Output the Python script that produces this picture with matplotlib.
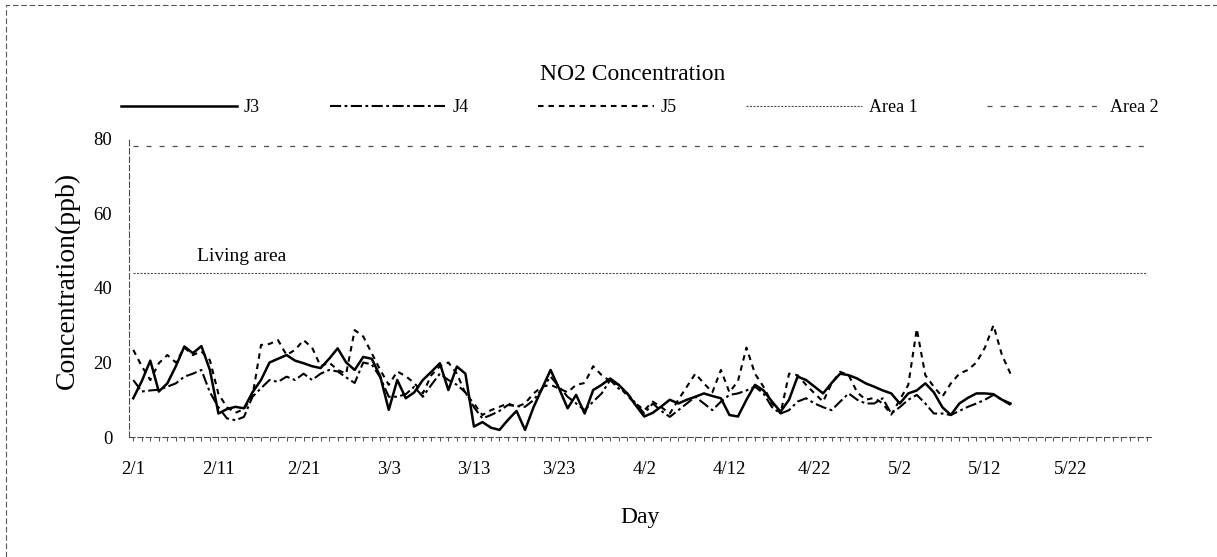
import numpy as np
import matplotlib
matplotlib.use("Agg")
import matplotlib.pyplot as plt
from matplotlib.patches import Rectangle

plt.rcParams['font.family'] = ['Liberation Serif', 'DejaVu Serif']
plt.rcParams['lines.scale_dashes'] = False

# daily NO2 values (ppb), starting 2/1
j3 = [10.4, 15, 20.5, 12.2, 14.4, 19, 24.3, 22.5, 24.4, 18,
      6.3, 7.5, 8.1, 7.7, 12, 15.3, 20, 21, 22, 20.5,
      19.8, 19, 18.5, 21, 23.8, 20, 18, 21.5, 21, 16.3,
      7.3, 15.3, 10.4, 12, 15.3, 17.5, 19.8, 12.6, 18.9, 17,
      2.8, 4, 2.5, 1.9, 4.6, 7, 1.9, 8, 13, 18,
      13, 7.7, 11.3, 6.3, 12.6, 14, 15.7, 14, 11.7, 8.5,
      5.5, 6.5, 8.2, 10, 9, 10, 10.8, 11.7, 11, 10.4,
      5.9, 5.5, 10, 14, 12.5, 9.5, 6.8, 10, 16.2, 15.3,
      13.5, 11.7, 14.5, 17, 16.6, 15.7, 14.4, 13.5, 12.5, 11.7,
      9, 11.7, 12.5, 14.4, 12, 8, 5.9, 9, 10.5, 11.7,
      11.7, 11.5, 10, 9]
j4 = [15.3, 12.2, 12.5, 12.7, 13.5, 14.4, 16.2, 17, 18, 12,
      8, 5, 4.5, 5.4, 10.8, 13.1, 15.3, 14.8, 16.2, 15.3,
      17, 15.3, 17, 18, 17.6, 16, 14.5, 20, 19.5, 16,
      10.8, 10.8, 11.5, 13.5, 10.8, 14, 17, 15.3, 14, 12,
      8, 5, 5.9, 7, 8.6, 8.3, 8.1, 9.9, 13, 16.2,
      13.5, 10.8, 9, 7.2, 9.5, 11.7, 15.3, 13, 11.7, 9,
      6.3, 9, 7, 5.4, 7.2, 9, 10.8, 9, 7.2, 9.5,
      11.3, 11.7, 12.5, 13.5, 11.7, 8, 6.3, 7.2, 9.5, 10.4,
      9, 8, 7.2, 9.5, 11.7, 10, 9, 9, 10.4, 6.3,
      8, 10, 11.3, 9, 6.3, 6.3, 5.9, 7, 8.1, 9,
      10, 11.3, 10, 8.6]
j5 = [23.4, 19, 15.3, 19.8, 22, 20, 24, 22, 23, 20.6,
      11.6, 8, 6.5, 7.5, 11, 24.7, 25, 26, 22, 23.4,
      26, 24, 19, 20, 18, 17, 28.7, 27, 22.5, 18,
      14, 17.6, 16.3, 14.5, 11.7, 16.6, 19, 20, 17, 11.7,
      9, 5.9, 7.2, 8.1, 9, 8.1, 9, 11.7, 13.5, 14,
      13, 12, 14, 14.5, 19, 16.6, 15, 14, 11, 9,
      7.2, 9.5, 8, 6.3, 10, 13.5, 17, 14.4, 12, 18,
      12, 15, 24, 17, 13.5, 9, 6.3, 17, 16.6, 14,
      11.7, 9.5, 14.4, 17.5, 16.6, 12, 10, 10.5, 9, 6,
      10, 14, 29, 16.6, 13.5, 10.8, 14.4, 17, 18, 20,
      24, 30, 22, 17]
area1 = 44
area2 = 78
n_days = 120
tick_labels = ["2/1", "2/11", "2/21", "3/3", "3/13", "3/23",
               "4/2", "4/12", "4/22", "5/2", "5/12", "5/22"]

W, H = 1217, 557
fig = plt.figure(figsize=(W / 100, H / 100), dpi=100)
ax = fig.add_axes([129 / W, 1 - 437 / H, 1022 / W, 298 / H])

days = np.arange(n_days)
ax.plot(np.arange(len(j3)), j3, color='black', lw=1.8, label='J3')
ax.plot(np.arange(len(j4)), j4, color='black', lw=1.5,
        linestyle=(0, (8, 2.5, 2, 2.5)), label='J4')
ax.plot(np.arange(len(j5)), j5, color='black', lw=1.5,
        linestyle=(0, (4, 3.5)), label='J5')
ax.plot(days, np.full(n_days, area1), color='0.3', lw=0.8,
        linestyle=(0, (1.5, 1)), label='Area 1')
ax.plot(days, np.full(n_days, area2), color='0.3', lw=0.9,
        linestyle=(0, (3.6, 5.8)), label='Area 2')

ax.text(7.5, area1 + 2.2, "Living area", fontsize=14, ha='left', va='bottom')

ax.set_xlim(-0.5, n_days - 0.5)
ax.set_ylim(0, 80)
ax.set_yticks([0, 20, 40, 60, 80])
ax.set_xticks(np.arange(0, len(tick_labels) * 10, 10))
ax.set_xticklabels(tick_labels)
ax.set_xticks(days, minor=True)
ax.tick_params(axis='x', which='both', direction='out', length=3, width=0.7,
               color='0.3', labelsize=13.5, pad=14)
ax.tick_params(axis='y', length=0, labelsize=13.5, pad=12)

for side in ['top', 'right']:
    ax.spines[side].set_visible(False)
for side in ['left', 'bottom']:
    ax.spines[side].set_linestyle((0, (4, 2)))
    ax.spines[side].set_linewidth(0.8)
    ax.spines[side].set_color('0.3')

fig.text(633 / W, 1 - 75 / H, "NO2 Concentration", fontsize=17,
         ha='center', va='center')
fig.text(67 / W, 1 - 280 / H, "Concentration(ppb)", fontsize=20,
         rotation=90, ha='center', va='center')
fig.text(640 / W, 1 - 518 / H, "Day", fontsize=17, ha='center', va='center')

fig.legend(loc='center', ncol=5, mode='expand', frameon=False,
           bbox_to_anchor=(105 / W, 1 - 120 / H, 1070 / W, 24 / H),
           fontsize=13, handlelength=6.4, handletextpad=0.4)

fig.patches.append(Rectangle((6 / W, -0.1), 1.1, 1.1 - 5 / H, transform=fig.transFigure,
                             fill=False, lw=0.8, ls=(0, (4, 2)), ec='0.35'))

fig.savefig("out.png", dpi=100)
